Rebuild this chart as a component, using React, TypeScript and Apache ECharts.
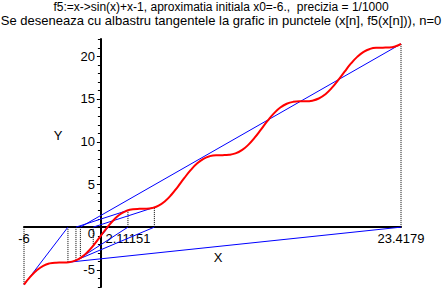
import React, { useEffect, useRef } from "react";
import * as echarts from "echarts";

const curveX = [
  -6, -5.5, -5, -4.5, -4, -3.5, -3, -2.5, -2, -1.5, -1, -0.5, 0, 0.5, 1, 1.5, 2, 2.5, 3, 3.5,
  4, 4.5, 5, 5.5, 6, 6.5, 7, 7.5, 8, 8.5, 9, 9.5, 10, 10.5, 11, 11.5, 12, 12.5, 13, 13.5,
  14, 14.5, 15, 15.5, 16, 16.5, 17, 17.5, 18, 18.5, 19, 19.5, 20, 20.5, 21, 21.5, 22, 22.5,
  23, 23.4179,
];
const curveY = [
  -6.72, -5.79, -5.04, -4.52, -4.24, -4.15, -4.14, -4.1, -3.91, -3.5, -2.84, -1.98, -1, -0.02,
  0.84, 1.5, 1.91, 2.1, 2.14, 2.15, 2.24, 2.52, 3.04, 3.79, 4.72, 5.72, 6.66, 7.44, 7.99, 8.3,
  8.41, 8.42, 8.46, 8.62, 9.0, 9.62, 10.46, 11.43, 12.42, 13.3, 13.99, 14.43, 14.65, 14.71,
  14.71, 14.79, 15.04, 15.52, 16.25, 17.16, 18.15, 19.11, 19.91, 20.5, 20.84, 20.97, 20.99,
  21.01, 21.15, 21.43,
];

// Newton iterates x[n] and f5(x[n])
const iterX = [-6, -2.5714, 23.4179, -1.6019, 2.1115, -1.9459, 4.1717, -0.5972, 0.5849, 0.5102];
const iterY = [-6.72, -4.111, 21.428, -3.601, 1.969, -3.876, 2.314, -2.16, 0.137, -0.0015];

const xTickLabels = [-6, 2.11151, 23.4179];
const yTickLabels = [-5, 5, 10, 15, 20];
const yMajorTicks = [-5, 5, 10, 15, 20];
const yMinorTicks = [
  -7, -6, -4, -3, -2, -1, 1, 2, 3, 4, 6, 7, 8, 9, 11, 12, 13, 14, 16, 17, 18, 19, 21, 22,
];
const yRange = [-7, 22];
const xRange = [-6, 23.4179];

const titleLines = [
  "f5:=x->sin(x)+x-1, aproximatia initiala x0=-6.,  precizia = 1/1000",
  "Se deseneaza cu albastru tangentele la grafic in punctele (x[n], f5(x[n])), n=0",
];

const FONT = "'Liberation Sans', Arial, sans-serif";

export default function App() {
  const ref = useRef<HTMLDivElement>(null);
  useEffect(() => {
    if (!ref.current) return;
    document.body.style.margin = "0";
    const chart = echarts.init(ref.current, null, { renderer: "svg" });

    const tangentSeries = [];
    for (let n = 0; n < iterX.length - 1; n++) {
      tangentSeries.push({
        type: "line",
        data: [
          [iterX[n], iterY[n]],
          [iterX[n + 1], 0],
        ],
        showSymbol: false,
        silent: true,
        lineStyle: { color: "#0000ff", width: 1 },
        z: 3,
      });
    }
    const dottedSeries = iterX.map((x, n) => ({
      type: "line",
      data: [
        [x, 0],
        [x, iterY[n]],
      ],
      showSymbol: false,
      silent: true,
      lineStyle: { color: "#000000", width: 1, type: [1, 1] },
      z: 2,
    }));

    chart.setOption({
      animation: false,
      backgroundColor: "#ffffff",
      textStyle: { fontFamily: FONT },
      grid: { left: 24, right: 41, top: 39, bottom: 6, containLabel: false },
      xAxis: {
        type: "value",
        min: xRange[0],
        max: xRange[1],
        axisLine: { onZero: true, lineStyle: { color: "#000", width: 2 } },
        axisTick: { show: false },
        splitLine: { show: false },
        axisLabel: { show: false },
      },
      yAxis: {
        type: "value",
        min: yRange[0],
        max: yRange[1],
        axisLine: { onZero: true, lineStyle: { color: "#000", width: 2 } },
        axisTick: { show: false },
        splitLine: { show: false },
        axisLabel: { show: false },
      },
      series: [
        ...dottedSeries,
        ...tangentSeries,
        {
          type: "line",
          data: curveX.map((x, i) => [x, curveY[i]]),
          smooth: true,
          showSymbol: false,
          silent: true,
          lineStyle: { color: "#ff0000", width: 2 },
          z: 4,
        },
      ],
    });

    const px = (x: number, y: number) => chart.convertToPixel({ gridIndex: 0 }, [x, y]) as number[];
    const graphics: any[] = [
      {
        type: "text",
        x: 221,
        y: 7,
        style: {
          text: titleLines[0],
          fill: "#000",
          font: `12px ${FONT}`,
          textAlign: "center",
          textVerticalAlign: "middle",
        },
      },
      {
        type: "text",
        x: 221,
        y: 20,
        style: {
          text: titleLines[1],
          fill: "#000",
          font: `13px ${FONT}`,
          textAlign: "center",
          textVerticalAlign: "middle",
        },
      },
      {
        type: "text",
        x: 58,
        y: 135,
        style: { text: "Y", fill: "#000", font: `13px ${FONT}`, textAlign: "center", textVerticalAlign: "middle" },
      },
      {
        type: "text",
        x: 218,
        y: 257,
        style: { text: "X", fill: "#000", font: `13px ${FONT}`, textAlign: "center", textVerticalAlign: "middle" },
      },
    ];
    const origin = px(0, 0);
    graphics.push({
      type: "text",
      x: origin[0] - 6,
      y: origin[1] + 6,
      style: { text: "0", fill: "#000", font: `13px ${FONT}`, textAlign: "right", textVerticalAlign: "middle" },
    });
    xTickLabels.forEach((v) => {
      const p = px(v, 0);
      graphics.push({
        type: "text",
        x: p[0],
        y: p[1] + 5,
        style: { text: String(v), fill: "#000", font: `13px ${FONT}`, textAlign: "center", textVerticalAlign: "top" },
      });
    });
    yTickLabels.forEach((v) => {
      const p = px(0, v);
      graphics.push({
        type: "text",
        x: p[0] - 6,
        y: p[1],
        style: { text: String(v), fill: "#000", font: `13px ${FONT}`, textAlign: "right", textVerticalAlign: "middle" },
      });
    });
    yMajorTicks.forEach((v) => {
      const p = px(0, v);
      const yy = Math.round(p[1]) + 0.5;
      graphics.push({
        type: "line",
        shape: { x1: p[0] - 4, y1: yy, x2: p[0], y2: yy },
        style: { stroke: "#000", lineWidth: 1 },
      });
    });
    yMinorTicks.forEach((v) => {
      const p = px(0, v);
      const yy = Math.round(p[1]) + 0.5;
      graphics.push({
        type: "line",
        shape: { x1: p[0] - 3, y1: yy, x2: p[0], y2: yy },
        style: { stroke: "#000", lineWidth: 1 },
      });
    });
    chart.setOption({ graphic: graphics });

    return () => chart.dispose();
  }, []);
  return <div ref={ref} style={{ width: 442, height: 293 }} />;
}
